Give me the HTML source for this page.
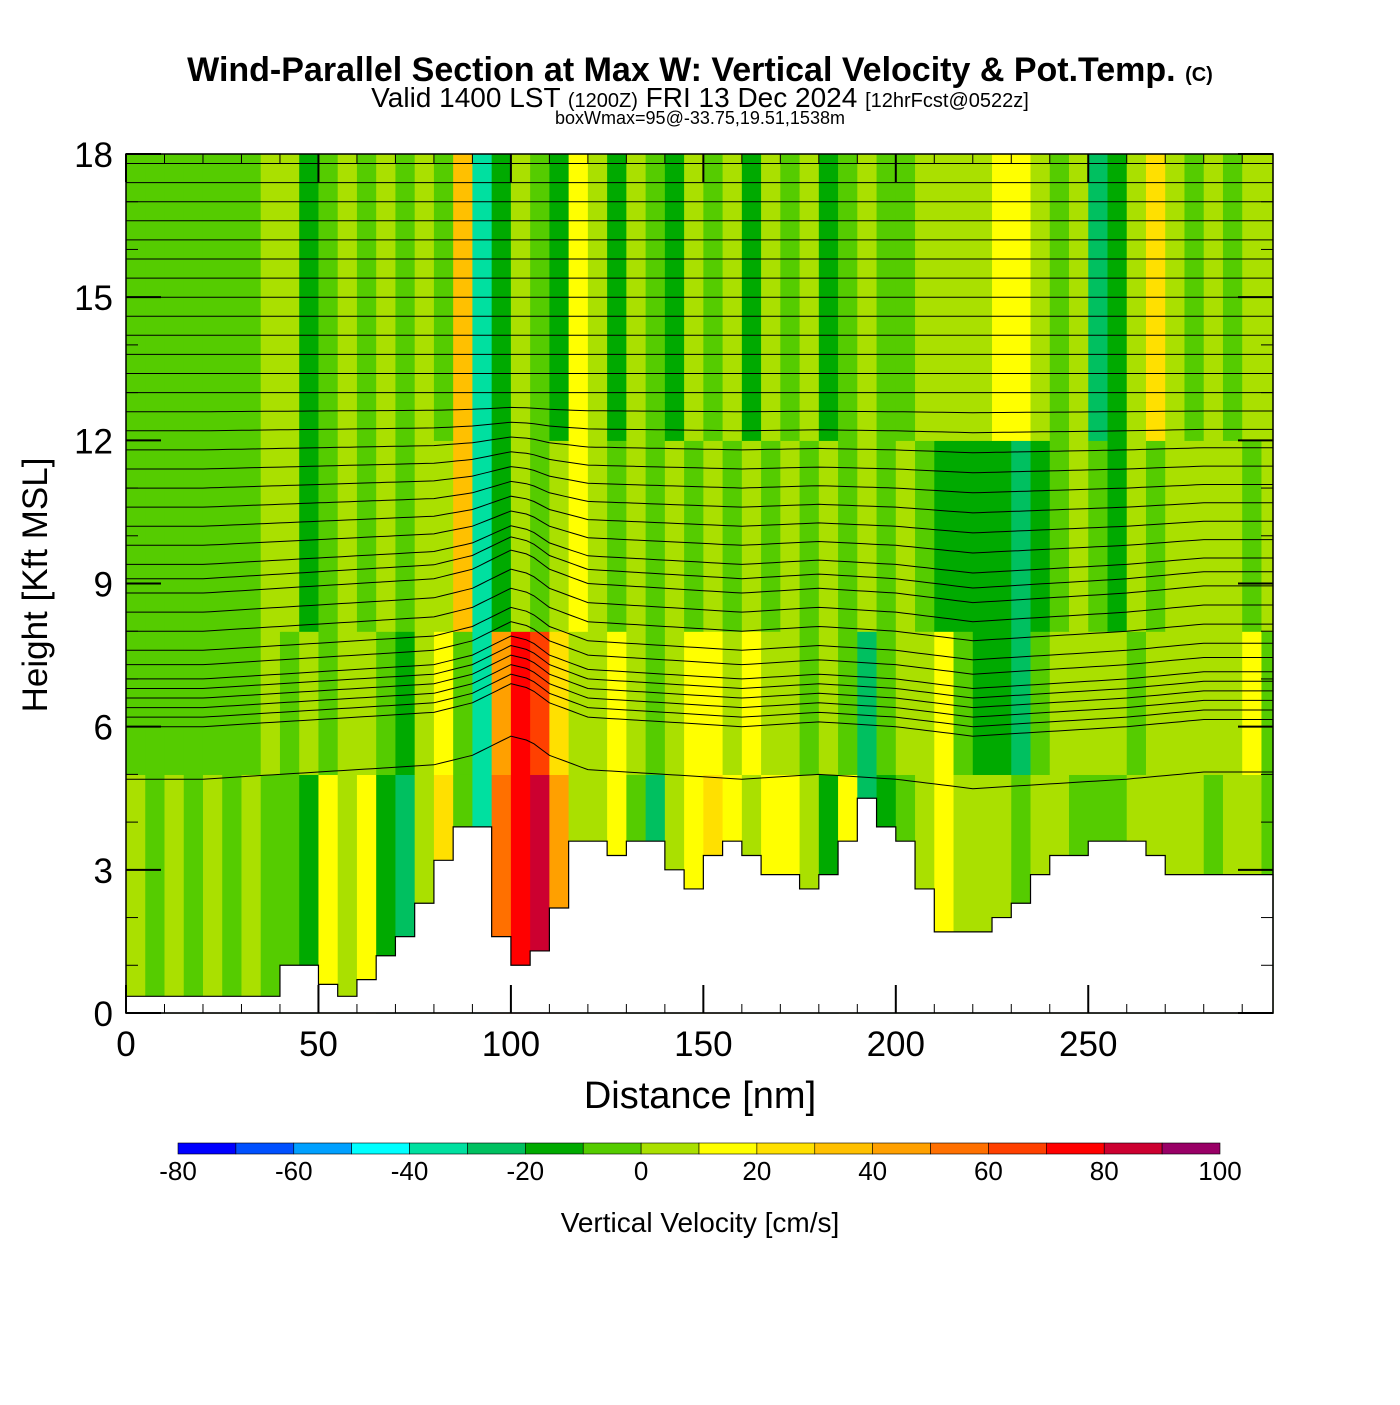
<!DOCTYPE html>
<html><head><meta charset="utf-8">
<style>
html,body{margin:0;padding:0;background:#fff;}
body{width:1400px;height:1400px;position:relative;overflow:hidden;font-family:"Liberation Sans",Arial,sans-serif;}
</style></head>
<body>
<svg id="chart" width="1400" height="1400" xmlns="http://www.w3.org/2000/svg" font-family="Liberation Sans, Arial, sans-serif">
<text x="700" y="81" text-anchor="middle" font-size="34" font-weight="bold">Wind-Parallel Section at Max W: Vertical Velocity &amp; Pot.Temp. <tspan font-size="20">(C)</tspan></text>
<text x="700" y="107" text-anchor="middle" font-size="28">Valid 1400 LST <tspan font-size="20">(1200Z)</tspan> FRI 13 Dec 2024 <tspan font-size="20">[12hrFcst@0522z]</tspan></text>
<text x="700" y="124" text-anchor="middle" font-size="18">boxWmax=95@-33.75,19.51,1538m</text>
<g id="plot"></g>
<g id="axes"></g>
<g id="cbar"></g>
<text x="700" y="1108" text-anchor="middle" font-size="38">Distance [nm]</text>
<text transform="translate(47,585) rotate(-90)" text-anchor="middle" font-size="35">Height [Kft MSL]</text>
<text x="700" y="1232" text-anchor="middle" font-size="28">Vertical Velocity [cm/s]</text>
</svg>
<script>
// ---- data ----
const colStarts = [0,5,10,15,20,25,30,35,40,45,50,55,60,65,70,75,80,85,90,95,100,105,110,115,120,125,130,135,140,145,150,155,160,165,170,175,180,185,190,195,200,205,210,215,220,225,230,235,240,245,250,255,260,265,270,275,280,285,290,295];
const bandTops = [5, 8, 12, 18];
const bandBottoms = [0, 5, 8, 12];
const wBottom = [5,-5,5,-5,5,-5,5,-5,-5,-15,15,5,15,-15,-25,5,25,-5,-40,55,75,85,45,5,5,15,-5,-25,5,15,25,15,5,15,15,5,-15,15,-25,-15,-5,5,15,5,5,5,-5,5,5,-5,-5,-5,5,5,5,5,-5,5,5,-5];
const wLow = [-5,-5,-5,-5,-5,-5,-5,5,-5,5,-5,5,5,-5,-15,5,15,-5,-40,45,75,65,25,5,5,15,5,-5,5,15,15,5,15,5,5,-5,5,-5,-25,-5,5,5,15,-5,-15,-15,-25,-5,5,5,5,5,-5,5,5,5,5,5,15,-5];
const wMid = [-5,-5,-5,-5,-5,-5,-5,5,5,-15,-5,5,-5,5,-5,5,5,35,-40,-15,5,-5,5,15,5,-5,5,-5,5,-5,5,-5,5,-5,5,-5,5,-5,5,-5,5,-5,-15,-15,-15,-15,-25,-15,-5,5,-5,-15,5,-5,5,5,5,5,-5,5];
const wUp = [-5,-5,-5,-5,-5,-5,-5,5,5,-15,-5,5,-5,5,-5,5,-5,35,-40,-15,5,-5,-15,15,5,-15,5,-5,-15,5,-5,5,-15,5,-5,5,-15,-5,5,-5,-5,5,5,5,5,15,15,5,-5,5,-25,-15,5,25,5,-5,5,-5,5,5];
const terrain = [0.35,0.35,0.35,0.35,0.35,0.35,0.35,0.35,1.0,1.0,0.6,0.35,0.7,1.2,1.6,2.3,3.2,3.9,3.9,1.6,1.0,1.3,2.2,3.6,3.6,3.3,3.6,3.6,3.0,2.6,3.3,3.6,3.3,2.9,2.9,2.6,2.9,3.6,4.5,3.9,3.6,2.6,1.7,1.7,1.7,2.0,2.3,2.9,3.3,3.3,3.6,3.6,3.6,3.3,2.9,2.9,2.9,2.9,2.9,2.9];
const thetaHeights = [4.9,6.0,6.2,6.4,6.6,6.8,7.0,7.3,7.6,8.0,8.4,8.8,9.1,9.4,9.8,10.2,10.6,11.0,11.4,11.8,12.2,12.6,13.0,13.4,13.8,14.2,14.6,15.0,15.4,15.8,16.2,16.6,17.0,17.4,17.8];
const thetaOffsetX = [0,20,40,60,80,90,95,100,105,110,120,140,160,180,200,220,240,260,280,298];
const thetaOffset = [0,0,0.1,0.2,0.3,0.5,0.7,0.9,0.8,0.5,0.2,0.1,0.0,0.1,0.0,-0.2,-0.1,0.0,0.15,0.15];
const xTicks = [0,50,100,150,200,250];
const yTicks = [0,3,6,9,12,15,18];
const cbLevels = [-80,-70,-60,-50,-40,-30,-20,-10,0,10,20,30,40,50,60,70,80,90,100];
const cbColors = ["#0000ff","#0050ff","#00a0ff","#00ffff","#00e0a0","#00c060","#00aa00","#55cc00","#aae000","#ffff00","#ffe000","#ffc000","#ffa000","#ff7000","#ff4000","#ff0000","#cc0030","#990066"];
const cbLabels = [-80,-60,-40,-20,0,20,40,60,80,100];
// ---- scales ----
const X0=126,X1=1273,XMAX=298,Y0=1013,Y1=154,YMAX=18;
const sx=v=>X0+(X1-X0)*v/XMAX;
const sy=v=>Y0-(Y0-Y1)*v/YMAX;
const ns="http://www.w3.org/2000/svg";
function mk(t,a,p){const e=document.createElementNS(ns,t);for(const k in a)e.setAttribute(k,a[k]);p.appendChild(e);return e;}
function colorFor(w){let i=Math.floor((w+80)/10);i=Math.max(0,Math.min(17,i));return cbColors[i];}
const plot=document.getElementById('plot');
const bands=[wBottom,wLow,wMid,wUp];
bands.forEach((arr,b)=>{
  arr.forEach((w,i)=>{
    const xa=colStarts[i], xb=Math.min(XMAX,xa+5);
    const r=mk('rect',{x:sx(xa),y:sy(bandTops[b]),width:sx(xb)-sx(xa)+0.6,height:sy(bandBottoms[b])-sy(bandTops[b])+0.6,fill:colorFor(w)},plot);
    
    
  });
});
// theta contours
function offAt(x){for(let i=0;i<thetaOffsetX.length-1;i++){if(x>=thetaOffsetX[i]&&x<=thetaOffsetX[i+1]){const t=(x-thetaOffsetX[i])/(thetaOffsetX[i+1]-thetaOffsetX[i]);return thetaOffset[i]+t*(thetaOffset[i+1]-thetaOffset[i]);}}return 0;}
thetaHeights.forEach((h,k)=>{
  const scale=h<9?1:Math.max(0,(13-h)/4);
  let d='';
  for(let x=0;x<=XMAX;x+=2){const y=Math.min(18,h+offAt(x)*scale);d+=(x?'L':'M')+sx(x).toFixed(1)+','+sy(y).toFixed(1);}
  const p=mk('path',{d:d,fill:'none',stroke:'#000','stroke-width':1},plot);
  
  
});
// terrain
let td='M'+sx(0)+','+sy(0);
terrain.forEach((h,i)=>{const xa=colStarts[i],xb=Math.min(XMAX,xa+5);td+='L'+sx(xa)+','+sy(h)+'L'+sx(xb)+','+sy(h);});
td+='L'+sx(XMAX)+','+sy(0)+'Z';
const tp=mk('path',{d:td,fill:'#fff',stroke:'#000','stroke-width':1.2},plot);


// axes
const ax=document.getElementById('axes');
const fr=mk('rect',{x:X0,y:Y1,width:X1-X0,height:Y0-Y1,fill:'none',stroke:'#000','stroke-width':1.5},ax);


for(let v=0;v<=XMAX;v+=10){const big=v%50===0;const L=big?28:9;
  mk('line',{x1:sx(v),x2:sx(v),y1:Y0,y2:Y0-L,stroke:'#000','stroke-width':big?2:1},ax);
  mk('line',{x1:sx(v),x2:sx(v),y1:Y1,y2:Y1+L,stroke:'#000','stroke-width':big?2:1},ax);}
for(let v=0;v<=18;v+=1){const big=v%3===0;const L=big?35:12;
  mk('line',{x1:X0,x2:X0+L,y1:sy(v),y2:sy(v),stroke:'#000','stroke-width':big?2:1},ax);
  mk('line',{x1:X1,x2:X1-L,y1:sy(v),y2:sy(v),stroke:'#000','stroke-width':big?2:1},ax);}
xTicks.forEach(v=>{const t=mk('text',{x:sx(v),y:1056,'text-anchor':'middle','font-size':35},ax);t.textContent=v;
  
  });
yTicks.forEach(v=>{const t=mk('text',{x:113,y:sy(v)+13,'text-anchor':'end','font-size':35},ax);t.textContent=v;
  
  });
// colorbar
const cb=document.getElementById('cbar');
const CB0=178,CB1=1220,CBW=(CB1-CB0)/cbColors.length;
cbColors.forEach((c,i)=>{const r=mk('rect',{x:CB0+i*CBW,y:1143,width:CBW,height:11,fill:c,stroke:'#000','stroke-width':0.6},cb);
  
  });
cbLabels.forEach(v=>{const i=cbLevels.indexOf(v);const t=mk('text',{x:CB0+i*CBW,y:1180,'text-anchor':'middle','font-size':26},cb);t.textContent=v;
  
  });
</script>
</body></html>
